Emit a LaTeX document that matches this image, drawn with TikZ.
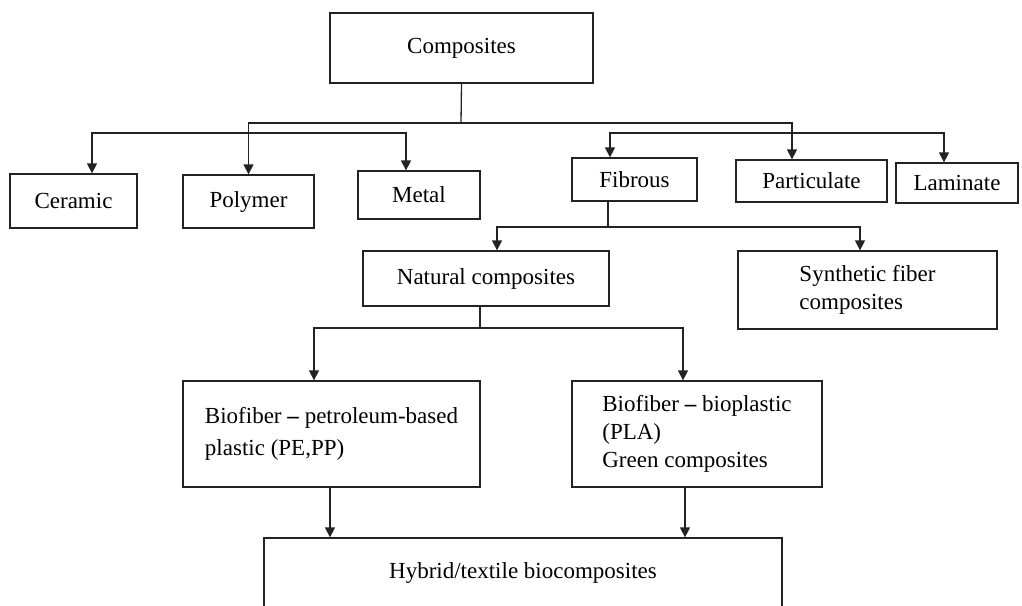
\documentclass[tikz,border=0pt]{standalone}
\usepackage{fontspec}
\setmainfont{Liberation Serif}
\usepackage{tikz}
\usetikzlibrary{arrows.meta,positioning,calc}
\definecolor{lnblack}{RGB}{35,35,35}

\begin{document}
\begin{tikzpicture}[
  x=1pt, y=-1pt,
  font=\fontsize{23}{28}\selectfont,
  box/.style={draw=lnblack, rectangle, inner sep=0pt, align=left, line width=1.3pt},
  >={Triangle[length=10pt,width=10pt]},
  arrline/.style={->, draw=lnblack, line width=1.3pt},
  plain/.style={draw=lnblack, line width=1.3pt},
]
\useasboundingbox (0,0) rectangle (1022,605);
\clip (0,0) rectangle (1022,605);
% top level
\node[box, minimum width=263, minimum height=70] (comp) at (461.5,48) {Composites};
\node[box, minimum width=127, minimum height=54] (ceramic) at (73.5,201) {Ceramic};
\node[box, minimum width=131, minimum height=53] (polymer) at (248.5,201.5) {Polymer};
\node[box, minimum width=122, minimum height=48] (metal) at (419,195) {Metal};
\node[box, minimum width=125, minimum height=43] (fibrous) at (634.5,179.5) {Fibrous};
\node[box, minimum width=151, minimum height=42] (partic) at (811.5,181) {Particulate};
\node[box, minimum width=122, minimum height=40] (laminate) at (957,183) {Laminate};
% fibrous branch
\node[box, minimum width=246, minimum height=55] (natural) at (486,278.5) {Natural composites};
\node[box, minimum width=259, minimum height=78] (synth) at (867.5,290) {Synthetic fiber\\composites};
\node[box, minimum width=297, minimum height=106, font=\fontsize{23}{32}\selectfont] (bioPet) at (331.5,434)
  {Biofiber \textbf{–} petroleum-based\\plastic (PE,PP)};
\node[box, minimum width=250, minimum height=106] (bioPla) at (697,434)
  {Biofiber \textbf{–} bioplastic\\(PLA)\\Green composites};
\node[box, minimum width=518, minimum height=70] (hybrid) at (523,573) {Hybrid/textile biocomposites};
% junctions
\coordinate (j0) at (461,123);
\coordinate (bL) at (249,133);
\coordinate (bR) at (777,133);
\coordinate (j1) at (608,227);
\coordinate (j2) at (480,328);
% connectors
\draw[plain] (comp.south) -- (j0);
\draw[arrline] (j0) -| (polymer.north);
\draw[arrline] (j0) -| ([xshift=-19.5pt]partic.north);
\draw[arrline] (bL) -| ([xshift=18.5pt]ceramic.north);
\draw[arrline] (bL) -| ([xshift=-13pt]metal.north);
\draw[arrline] (bR) -| ([xshift=-24.5pt]fibrous.north);
\draw[arrline] (bR) -| ([xshift=-13pt]laminate.north);
\draw[plain] (j1 |- fibrous.south) -- (j1);
\draw[arrline] (j1) -| ([xshift=11pt]natural.north);
\draw[arrline] (j1) -| ([xshift=-7.5pt]synth.north);
\draw[plain] (j2 |- natural.south) -- (j2);
\draw[arrline] (j2) -| ([xshift=-17.5pt]bioPet.north);
\draw[arrline] (j2) -| ([xshift=-14pt]bioPla.north);
\draw[arrline] ([xshift=-1.5pt]bioPet.south) -- ([xshift=-1.5pt]bioPet.south |- hybrid.north);
\draw[arrline] ([xshift=-12pt]bioPla.south) -- ([xshift=-12pt]bioPla.south |- hybrid.north);
\end{tikzpicture}
\end{document}
